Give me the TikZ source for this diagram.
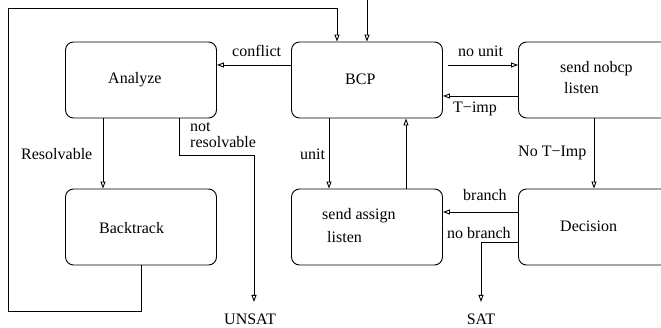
\documentclass[tikz,border=0pt]{standalone}
\usepackage{fontspec}
\setmainfont{Liberation Serif}
\usetikzlibrary{arrows.meta,positioning,calc}
\tikzset{
  state/.style={draw,line width=0.9pt,rounded corners=8pt,
                minimum width=151pt,minimum height=76pt,inner sep=0pt},
  lbl/.style={anchor=base west,inner sep=0pt},
  arr/.style={-{Triangle[open,length=7pt,width=5pt]},line width=0.9pt},
  plain/.style={line width=0.9pt}
}
\begin{document}
\begin{tikzpicture}[x=1pt,y=-1pt,font=\fontsize{16}{19}\selectfont]
    \clip (0,0) rectangle (661,328);
    \path[use as bounding box] (0,0) rectangle (661,328);

    \node[state] (analyze) at (141,80) {};
    \node[state] (bcp) at (367,80) {};
    \node[state] (nobcp) at (594,80) {};
    \node[state] (backtrack) at (141,227) {};
    \node[state] (assign) at (367,227) {};
    \node[state] (decision) at (594,227) {};

    \node[lbl] (analyzetxt) at (108,84) {Analyze};
    \node[lbl] (bcptxt) at (345,85) {BCP};
    \node[lbl] (nobcptxt) at (560,73) {send nobcp};
    \node[lbl] (nobcplisten) at (564,94) {listen};
    \node[lbl] (backtracktxt) at (99,234) {Backtrack};
    \node[lbl] (assigntxt) at (322,220) {send assign};
    \node[lbl] (assignlisten) at (327,243) {listen};
    \node[lbl] (decisiontxt) at (560,232) {Decision};

    \coordinate (start) at (367,0);
    \coordinate (loopbl) at (8,311);
    \coordinate (looptl) at (8,8);
    \coordinate (loopin) at (337,8);
    \coordinate (unsatin) at (254,302);
    \coordinate (satin) at (481,302);

    \draw[arr] (start) -- (bcp.north);
    \draw[arr] (backtrack.south) |- (loopbl) -- (looptl) -- (loopin)
      -- (loopin |- bcp.north);
    \draw[arr] ([yshift=15pt]bcp.west) -- ([yshift=15pt]analyze.east);
    \draw[arr] ([xshift=5pt,yshift=15pt]bcp.east) -- ([yshift=15pt]nobcp.west);
    \draw[arr] ([yshift=-16pt]nobcp.west) -- ([yshift=-16pt]bcp.east);
    \draw[arr] (nobcp.south) -- (decision.north);
    \draw[arr] ([xshift=-38pt]bcp.south) -- ([xshift=-38pt]assign.north);
    \draw[arr] ([xshift=39pt]assign.north) -- ([xshift=39pt]bcp.south);
    \draw[arr] ([yshift=15pt]decision.west) -- ([yshift=15pt]assign.east);
    \draw[arr] ([yshift=-15pt]decision.west) -| (satin);
    \draw[arr] ([xshift=-38pt]analyze.south) -- ([xshift=-38pt]backtrack.north);
    \draw[arr] ([xshift=38pt]analyze.south) -- ++(0,37) -| (unsatin);

    \node[lbl] (conflict) at (232,57) {conflict};
    \node[lbl] (nounit) at (458,57) {no unit};
    \node[lbl] (timp) at (453,113) {T−imp};
    \node[lbl] (notimp) at (518,157) {No T−Imp};
    \node[lbl] (unit) at (300,160) {unit};
    \node[lbl] (resolvable) at (21,160) {Resolvable};
    \node[lbl] (notres) at (190,132) {not};
    \node[lbl] (notres2) at (190,148) {resolvable};
    \node[lbl] (branch) at (463,201) {branch};
    \node[lbl] (nobranch) at (447,239) {no branch};
    \node[anchor=base,inner sep=0pt] (unsat) at (250,325) {UNSAT};
    \node[anchor=base,inner sep=0pt] (sat) at (481,325) {SAT};
  \end{tikzpicture}
\end{document}
